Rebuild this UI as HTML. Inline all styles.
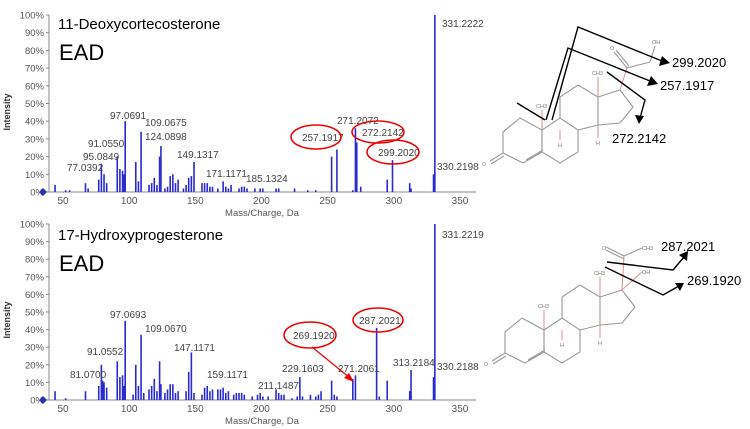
<!DOCTYPE html>
<html><head><meta charset="utf-8"><style>
html,body{margin:0;padding:0;background:#fff;}
svg{display:block;font-family:"Liberation Sans",sans-serif;}
</style></head><body>
<svg id="s" width="750" height="429" viewBox="0 0 750 429" xmlns="http://www.w3.org/2000/svg"></svg>
<script>
var S=document.getElementById('s'),o='';
function X(m){return 63+(m-50)*1.3233;}
function chart(y0,pk,labels,title,ty){
  var ppp=(y0===192)?1.77:1.76, top=y0-100*ppp;
  o+='<line x1="49" y1="'+top+'" x2="49" y2="'+y0+'" stroke="#888" stroke-width="1"/>';
  o+='<line x1="49" y1="'+y0+'" x2="476" y2="'+y0+'" stroke="#888" stroke-width="1"/>';
  for(var i=0;i<=10;i++){var y=y0-i*10*ppp;
    o+='<line x1="46" y1="'+y+'" x2="49" y2="'+y+'" stroke="#888"/>';
    o+='<text x="44" y="'+(y+3.5)+'" font-size="9.5" fill="#555" text-anchor="end">'+(i*10)+'%</text>';}
  for(var m=50;m<=350;m+=50){o+='<text x="'+X(m)+'" y="'+(y0+12)+'" font-size="10" fill="#555" text-anchor="middle">'+m+'</text>';}
  o+='<text x="262" y="'+(y0+24)+'" font-size="9.5" fill="#555" text-anchor="middle">Mass/Charge, Da</text>';
  o+='<text transform="translate(10,'+(y0-80)+') rotate(-90)" font-size="9" font-weight="bold" fill="#333" text-anchor="middle">Intensity</text>';
  o+='<path d="M43 '+(y0-4)+' L47 '+y0+' L43 '+(y0+4)+' L39 '+y0+'Z" fill="#2233bb"/>';
  for(var k=0;k<pk.length;k+=2){var x=X(pk[k]);
    o+='<line x1="'+x+'" y1="'+y0+'" x2="'+x+'" y2="'+(y0-pk[k+1]*ppp)+'" stroke="#2a2ad0" stroke-width="1.6"/>';}
  for(var j=0;j<labels.length;j+=3){o+='<text x="'+labels[j+1]+'" y="'+labels[j+2]+'" font-size="10" fill="#444">'+labels[j]+'</text>';}
  o+='<text x="58" y="'+ty+'" font-size="15" fill="#000">'+title+'</text>';
  o+='<text x="59" y="'+(ty+31)+'" font-size="22" fill="#000">EAD</text>';
}
chart(192,[44,4,52,1,55,1,67,5,69,2,77,7,79,16,81,10,83,5,91,20,93,13,95,12,96,10,97,40,105,17,107,6,109,34,115,4,117,5,119,8,121,4,123,20,124,26,127,2,129,3,131,9,133,10,135,5,137,7,141,2,143,4,145,8,147,9,149,17,155,5,157,5,159,5,161,3,163,3,167,2,171,6,173,3,175,2,177,4,183,2,185,3,187,3,189,2,195,2,199,2,201,2,211,2,213,2,225,2,235,1,241,1,253,20,257,24,269,1,271,36,272,28,275,3,295,7,299,18,312,5,313,2,330,10,331,100],
["331.2222",442,27,"97.0691",110,119,"109.0675",145,126,"124.0898",145,140,"91.0550",88,147,"95.0849",83,160,"77.0392",67,171,"149.1317",177,158,"171.1171",206,177,"185.1324",246,182,"271.2072",337,124,"257.1917",302,141,"272.2142",362,136,"299.2020",378,156,"330.2198",437,170],"11-Deoxycortecosterone",29);
chart(400,[44,5,52,1,67,5,77,8,79,20,80,11,81,10,83,7,91,22,93,13,95,14,96,8,97,45,103,3,105,20,107,8,109,37,111,4,115,6,117,8,119,12,121,5,123,22,124,9,127,4,129,6,131,9,133,9,135,4,137,5,143,5,145,16,147,27,149,4,155,3,157,7,159,8,161,5,163,6,167,6,169,6,171,7,173,4,175,5,179,3,181,4,183,4,185,4,187,3,193,2,197,3,199,4,201,2,205,2,211,6,213,4,215,3,217,3,223,1,227,2,229,13,231,2,237,3,241,2,243,3,245,5,253,11,255,3,257,2,269,12,271,14,287,41,289,2,295,11,312,5,313,17,330,13,331,100],
["331.2219",442,238,"97.0693",110,318,"109.0670",145,332,"91.0552",87,355,"81.0700",70,378,"147.1171",174,351,"159.1171",207,378,"211.1487",258,389,"229.1603",282,372,"271.2061",338,372,"269.1920",293,339,"287.2021",359,324,"313.2184",393,366,"330.2188",437,370],"17-Hydroxyprogesterone",240);
// red ellipses
[[316,137,25,12],[378,132,26,11],[393,152,26,12],[310,335,26,13],[378,320,25,12]].forEach(function(e){o+='<ellipse cx="'+e[0]+'" cy="'+e[1]+'" rx="'+e[2]+'" ry="'+e[3]+'" fill="none" stroke="#e00" stroke-width="1.5"/>';});
o+='<line x1="312" y1="347" x2="350" y2="378" stroke="#e00" stroke-width="1.2"/><path d="M354 382 L344 378 L349 373Z" fill="#e00"/>';
// structures
function mol(dx,dy,top){
  var g='<g transform="translate('+dx+','+dy+')" fill="none" stroke="#999" stroke-width="1.1">';
  g+='<polygon points="520,118 542,130 542,152 523,163 503,153 503,132"/>';
  g+='<polygon points="542,130 560,118 578,130 578,152 560,163 542,152"/>';
  g+='<polyline points="560,118 560,97 578,85 598,97 598,125 578,130"/>';
  g+='<polyline points="598,97 620,90 633,107 620,123 598,125"/>';
  g+='<line x1="526" y1="160" x2="543" y2="150"/><line x1="503" y1="153" x2="490" y2="161"/><line x1="504" y1="156" x2="491" y2="164"/>';
  g+='<line x1="542" y1="130" x2="542" y2="110" stroke="#d99"/><line x1="598" y1="97" x2="598" y2="77" stroke="#d99"/>';
  g+='<line x1="560" y1="130" x2="560" y2="140" stroke="#d99"/><line x1="598" y1="125" x2="598" y2="138" stroke="#d99"/>';
  if(top){g+='<line x1="620" y1="90" x2="627" y2="68" stroke="#d99"/><line x1="627" y1="68" x2="614" y2="52"/><line x1="629" y1="66" x2="616" y2="50"/><line x1="627" y1="68" x2="650" y2="62"/><line x1="650" y1="62" x2="655" y2="46"/>';}
  else{g+='<line x1="620" y1="90" x2="622" y2="56" stroke="#d99"/><line x1="622" y1="56" x2="604" y2="47"/><line x1="622" y1="59" x2="604" y2="50"/><line x1="622" y1="56" x2="640" y2="48"/><line x1="620" y1="90" x2="640" y2="72" stroke="#d99"/>';}
  g+='</g><g transform="translate('+dx+','+dy+')" font-size="5.5" fill="#777">';
  g+='<text x="482" y="166">O</text><text x="536" y="108">CH3</text><text x="592" y="75">CH3</text><text x="558" y="147">H</text><text x="596" y="145">H</text>';
  if(top)g+='<text x="610" y="50">O</text><text x="652" y="44">OH</text>';else g+='<text x="600" y="50">O</text><text x="640" y="50">CH3</text><text x="640" y="74">OH</text>';
  return g+'</g>';
}
o+=mol(0,0,true)+mol(2,200,false);
o+='<g stroke="#000" stroke-width="1.4" fill="none"><line x1="517" y1="103" x2="545" y2="120"/><polyline points="546,120 568,48 650,81"/><polyline points="552,120 578,27 662,61"/><polyline points="607,72 645,100 640,118"/>';
o+='<polyline points="607,262 673,270 684,257"/><polyline points="605,267 663,295 679,286"/></g>';
o+='<g fill="#000"><path d="M658 84 L647 86 L651 76Z"/><path d="M670 63 L659 66 L662 56Z"/><path d="M639 124 L635 115 L644 116Z"/><path d="M688 251 L679 255 L687 261Z"/><path d="M684 283 L675 283 L680 291Z"/></g>';
o+='<g font-size="13" fill="#000"><text x="672" y="67">299.2020</text><text x="660" y="90">257.1917</text><text x="612" y="143">272.2142</text><text x="661" y="251">287.2021</text><text x="687" y="285">269.1920</text></g>';
S.innerHTML=o;
</script>
</body></html>
